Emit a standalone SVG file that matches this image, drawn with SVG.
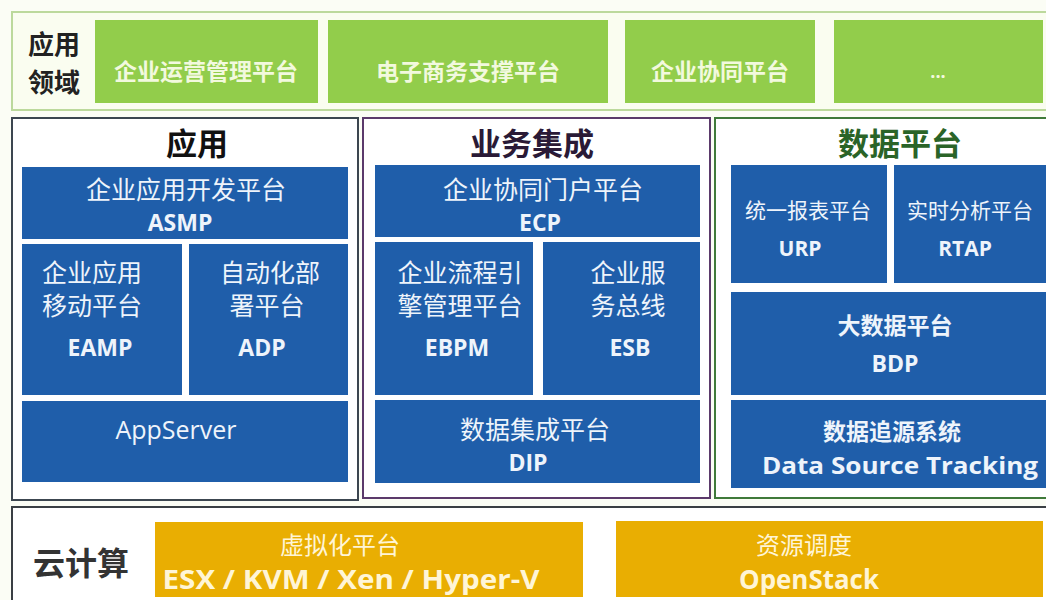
<svg xmlns="http://www.w3.org/2000/svg" width="1046" height="600" viewBox="0 0 1046 600">
  <style>
    text { font-family: "Open Sans", "Noto Sans CJK SC", "Noto Sans", sans-serif; text-anchor: middle; dominant-baseline: central; }
    .blue { fill: #1f5eaa; }
    .green { fill: #92cd4b; }
    .orange { fill: #e9ae02; }
    .cn { font-size: 25px; fill: #eef4fb; }
    .en { font-size: 23px; font-weight: 700; fill: #eef4fb; }
    .gt { font-size: 23px; font-weight: 700; fill: #f2f9de; }
    .ot { font-size: 24px; fill: #fff5d6; }
    .oe { font-size: 26px; font-weight: 700; fill: #fff5d6; }
    .title { font-size: 31px; font-weight: 700; }
    .side { font-size: 28px; font-weight: 700; fill: #222; }
  </style>

  <rect width="1046" height="600" fill="#fbfdf5"/>

  <!-- application domain band -->
  <g id="domain">
    <rect x="12" y="12" width="1040" height="98" fill="#fafdf0" stroke="#bcd99c" stroke-width="2"/>
    <text class="side" x="54" y="44" style="font-size:26px">应用</text>
    <text class="side" x="54" y="82" style="font-size:26px">领域</text>
    <g id="domain-ops">
      <rect class="green" x="95" y="20" width="223" height="83"/>
      <text class="gt" x="206" y="71">企业运营管理平台</text>
    </g>
    <g id="domain-ec">
      <rect class="green" x="328" y="20" width="280" height="83"/>
      <text class="gt" x="468" y="71">电子商务支撑平台</text>
    </g>
    <g id="domain-collab">
      <rect class="green" x="625" y="20" width="190" height="83"/>
      <text class="gt" x="720" y="71">企业协同平台</text>
    </g>
    <g id="domain-more">
      <rect class="green" x="834" y="20" width="209" height="83"/>
      <text class="gt" x="938" y="71" style="font-size:18px">...</text>
    </g>
  </g>

  <!-- application panel -->
  <g id="app">
    <rect x="12" y="118" width="346" height="382" fill="#ffffff" stroke="#3c4650" stroke-width="2"/>
    <text class="title" x="197" y="143" fill="#111">应用</text>
    <g id="asmp">
      <rect class="blue" x="22" y="167" width="326" height="72"/>
      <text class="cn" x="186" y="189">企业应用开发平台</text>
      <text class="en" x="180" y="222">ASMP</text>
    </g>
    <g id="eamp">
      <rect class="blue" x="22" y="244" width="160" height="151"/>
      <text class="cn" x="92" y="272">企业应用</text>
      <text class="cn" x="92" y="305">移动平台</text>
      <text class="en" x="100" y="347">EAMP</text>
    </g>
    <g id="adp">
      <rect class="blue" x="189" y="244" width="159" height="151"/>
      <text class="cn" x="270" y="272">自动化部</text>
      <text class="cn" x="267" y="305">署平台</text>
      <text class="en" x="262" y="347">ADP</text>
    </g>
    <g id="appserver">
      <rect class="blue" x="22" y="401" width="326" height="81"/>
      <text class="cn" x="176" y="429">AppServer</text>
    </g>
  </g>

  <!-- business integration panel -->
  <g id="integration">
    <rect x="363" y="118" width="347" height="380" fill="#ffffff" stroke="#5b3a6b" stroke-width="2"/>
    <text class="title" x="532" y="143" fill="#2a1a36">业务集成</text>
    <g id="ecp">
      <rect class="blue" x="375" y="165" width="325" height="72"/>
      <text class="cn" x="543" y="189">企业协同门户平台</text>
      <text class="en" x="540" y="222">ECP</text>
    </g>
    <g id="ebpm">
      <rect class="blue" x="375" y="242" width="158" height="153"/>
      <text class="cn" x="460" y="272">企业流程引</text>
      <text class="cn" x="460" y="305">擎管理平台</text>
      <text class="en" x="457" y="347">EBPM</text>
    </g>
    <g id="esb">
      <rect class="blue" x="543" y="242" width="157" height="153"/>
      <text class="cn" x="628" y="272">企业服</text>
      <text class="cn" x="628" y="305">务总线</text>
      <text class="en" x="630" y="347">ESB</text>
    </g>
    <g id="dip">
      <rect class="blue" x="375" y="400" width="325" height="83"/>
      <text class="cn" x="535" y="429">数据集成平台</text>
      <text class="en" x="528" y="462">DIP</text>
    </g>
  </g>

  <!-- data platform panel -->
  <g id="data">
    <rect x="715" y="118" width="345" height="380" fill="#ffffff" stroke="#3f7a3a" stroke-width="2"/>
    <text class="title" x="900" y="143" fill="#2a6428">数据平台</text>
    <g id="urp">
      <rect class="blue" x="731" y="165" width="156" height="118"/>
      <text class="cn" x="808" y="210" style="font-size:21px">统一报表平台</text>
      <text class="en" x="800" y="248" style="font-size:21px">URP</text>
    </g>
    <g id="rtap">
      <rect class="blue" x="894" y="165" width="160" height="118"/>
      <text class="cn" x="970" y="210" style="font-size:21px">实时分析平台</text>
      <text class="en" x="965" y="248" style="font-size:21px">RTAP</text>
    </g>
    <g id="bdp">
      <rect class="blue" x="731" y="292" width="320" height="103"/>
      <text class="en" x="895" y="325">大数据平台</text>
      <text class="en" x="895" y="363">BDP</text>
    </g>
    <g id="dst">
      <rect class="blue" x="731" y="400" width="320" height="88"/>
      <text class="en" x="892" y="431">数据追源系统</text>
      <text class="en" x="900" y="465" textLength="276" lengthAdjust="spacingAndGlyphs">Data Source Tracking</text>
    </g>
  </g>

  <!-- cloud computing band -->
  <g id="cloud">
    <rect x="12" y="507" width="1040" height="100" fill="#ffffff" stroke="#3a3f44" stroke-width="2"/>
    <text class="side" x="81" y="562" style="font-size:32px;fill:#333">云计算</text>
    <g id="virt">
      <rect class="orange" x="155" y="522" width="428" height="75"/>
      <text class="ot" x="340" y="544">虚拟化平台</text>
      <text class="oe" x="351" y="579" textLength="377" lengthAdjust="spacingAndGlyphs">ESX / KVM / Xen / Hyper-V</text>
    </g>
    <g id="sched">
      <rect class="orange" x="616" y="521" width="427" height="76"/>
      <text class="ot" x="804" y="544">资源调度</text>
      <text class="oe" x="809" y="579" textLength="140" lengthAdjust="spacingAndGlyphs">OpenStack</text>
    </g>
  </g>
</svg>
